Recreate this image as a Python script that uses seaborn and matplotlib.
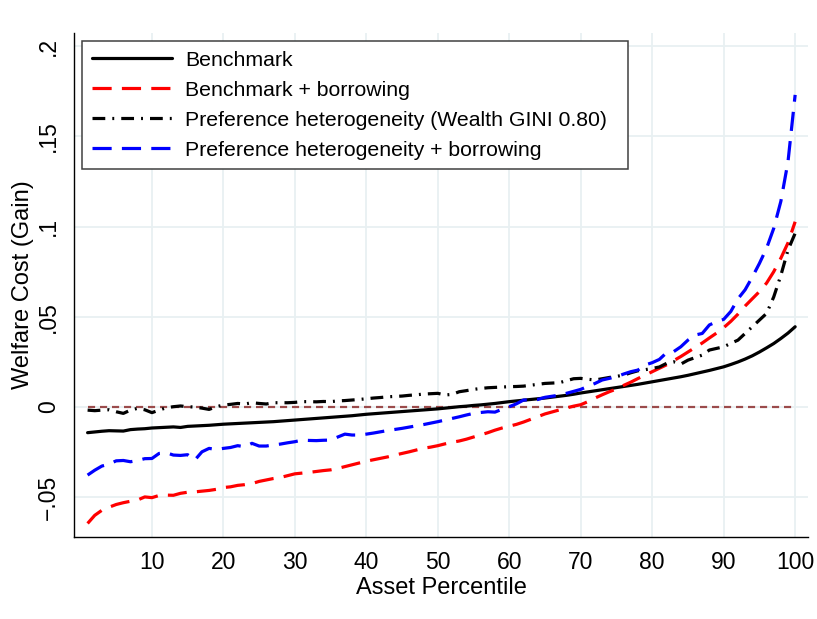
import numpy as np
import pandas as pd
import matplotlib
matplotlib.use("Agg")
import matplotlib.pyplot as plt
import seaborn as sns

# ---- data -------------------------------------------------------------
percentile = list(range(1, 101))

benchmark = [
    -0.0142, -0.0138, -0.0134, -0.0131, -0.0132, -0.0133, -0.0125, -0.0122, -0.0120, -0.0116,
    -0.0114, -0.0112, -0.0110, -0.0113, -0.0107, -0.0105, -0.0103, -0.0101, -0.0098, -0.0095,
    -0.0093, -0.0091, -0.0089, -0.0087, -0.0085, -0.0083, -0.0081, -0.0078, -0.0075, -0.0072,
    -0.0069, -0.0066, -0.0063, -0.0060, -0.0057, -0.0054, -0.0051, -0.0048, -0.0044, -0.0040,
    -0.0037, -0.0034, -0.0031, -0.0028, -0.0025, -0.0022, -0.0019, -0.0016, -0.0013, -0.0010,
    -0.0006, -0.0002, 0.0002, 0.0005, 0.0009, 0.0012, 0.0016, 0.0020, 0.0025, 0.0030,
    0.0034, 0.0038, 0.0042, 0.0046, 0.0050, 0.0055, 0.0060, 0.0065, 0.0071, 0.0078,
    0.0084, 0.0090, 0.0096, 0.0102, 0.0108, 0.0114, 0.0120, 0.0126, 0.0133, 0.0140,
    0.0147, 0.0154, 0.0161, 0.0168, 0.0176, 0.0185, 0.0194, 0.0203, 0.0213, 0.0223,
    0.0236, 0.0250, 0.0266, 0.0284, 0.0305, 0.0328, 0.0352, 0.0380, 0.0410, 0.0445,
]

benchmark_borrowing = [
    -0.0645, -0.0600, -0.0572, -0.0555, -0.0540, -0.0530, -0.0522, -0.0515, -0.0498, -0.0502,
    -0.0490, -0.0488, -0.0489, -0.0478, -0.0472, -0.0470, -0.0466, -0.0462, -0.0456, -0.0446,
    -0.0442, -0.0434, -0.0430, -0.0424, -0.0412, -0.0404, -0.0396, -0.0390, -0.0380, -0.0370,
    -0.0366, -0.0362, -0.0357, -0.0352, -0.0348, -0.0340, -0.0330, -0.0320, -0.0310, -0.0300,
    -0.0292, -0.0284, -0.0276, -0.0266, -0.0257, -0.0248, -0.0238, -0.0228, -0.0222, -0.0214,
    -0.0204, -0.0195, -0.0188, -0.0178, -0.0166, -0.0154, -0.0142, -0.0128, -0.0116, -0.0106,
    -0.0096, -0.0083, -0.0068, -0.0053, -0.0038, -0.0027, -0.0016, -0.0005, 0.0005, 0.0013,
    0.0030, 0.0050, 0.0068, 0.0085, 0.0100, 0.0120, 0.0138, 0.0158, 0.0177, 0.0196,
    0.0215, 0.0234, 0.0257, 0.0280, 0.0305, 0.0330, 0.0355, 0.0383, 0.0410, 0.0440,
    0.0475, 0.0515, 0.0560, 0.0600, 0.0640, 0.0687, 0.0750, 0.0825, 0.0910, 0.1027,
]

pref_het = [
    -0.0017, -0.0020, -0.0017, -0.0015, -0.0026, -0.0035, -0.0017, -0.0007, -0.0015, -0.0031,
    -0.0017, -0.0004, 0.0002, 0.0006, 0.0002, 0.0000, -0.0006, -0.0013, 0.0002, 0.0011,
    0.0015, 0.0020, 0.0017, 0.0024, 0.0020, 0.0017, 0.0024, 0.0024, 0.0024, 0.0026,
    0.0030, 0.0030, 0.0029, 0.0031, 0.0030, 0.0034, 0.0036, 0.0039, 0.0042, 0.0046,
    0.0050, 0.0053, 0.0057, 0.0059, 0.0061, 0.0065, 0.0068, 0.0072, 0.0074, 0.0076,
    0.0067, 0.0070, 0.0085, 0.0091, 0.0098, 0.0103, 0.0107, 0.0109, 0.0111, 0.0113,
    0.0114, 0.0116, 0.0121, 0.0126, 0.0131, 0.0133, 0.0135, 0.0146, 0.0157, 0.0159,
    0.0154, 0.0150, 0.0157, 0.0164, 0.0170, 0.0177, 0.0190, 0.0201, 0.0207, 0.0214,
    0.0222, 0.0242, 0.0251, 0.0238, 0.0260, 0.0274, 0.0288, 0.0316, 0.0325, 0.0334,
    0.0353, 0.0371, 0.0408, 0.0445, 0.0482, 0.0519, 0.0610, 0.0730, 0.0870, 0.0963,
]

pref_het_borrowing = [
    -0.0377, -0.0350, -0.0327, -0.0316, -0.0298, -0.0296, -0.0303, -0.0296, -0.0286, -0.0285,
    -0.0257, -0.0253, -0.0266, -0.0268, -0.0264, -0.0294, -0.0248, -0.0229, -0.0235, -0.0229,
    -0.0224, -0.0214, -0.0220, -0.0201, -0.0216, -0.0216, -0.0210, -0.0205, -0.0198, -0.0192,
    -0.0183, -0.0185, -0.0186, -0.0184, -0.0183, -0.0166, -0.0150, -0.0155, -0.0155, -0.0150,
    -0.0144, -0.0137, -0.0130, -0.0124, -0.0118, -0.0111, -0.0104, -0.0097, -0.0089, -0.0081,
    -0.0072, -0.0063, -0.0054, -0.0044, -0.0035, -0.0030, -0.0026, -0.0028, -0.0012, 0.0002,
    0.0018, 0.0039, 0.0040, 0.0042, 0.0054, 0.0060, 0.0066, 0.0076, 0.0087, 0.0098,
    0.0115, 0.0131, 0.0150, 0.0159, 0.0168, 0.0183, 0.0196, 0.0205, 0.0233, 0.0246,
    0.0264, 0.0301, 0.0307, 0.0334, 0.0371, 0.0399, 0.0408, 0.0455, 0.0473, 0.0486,
    0.0530, 0.0600, 0.0650, 0.0720, 0.0796, 0.0880, 0.0990, 0.1140, 0.1360, 0.1730,
]

series_labels = [
    "Benchmark",
    "Benchmark + borrowing",
    "Preference heterogeneity (Wealth GINI 0.80)",
    "Preference heterogeneity + borrowing",
]
x_ticks = [10, 20, 30, 40, 50, 60, 70, 80, 90, 100]
y_ticks = [-0.05, 0, 0.05, 0.1, 0.15, 0.2]
y_tick_labels = ["\u2212.05", "0", ".05", ".1", ".15", ".2"]

df = pd.DataFrame({
    "Asset Percentile": percentile * 4,
    "value": benchmark + benchmark_borrowing + pref_het + pref_het_borrowing,
    "series": sum([[s] * len(percentile) for s in series_labels], []),
})

# ---- style --------------------------------------------------------------
sns.set_style("white")
plt.rcParams["font.family"] = ["Liberation Sans", "DejaVu Sans"]
plt.rcParams["text.color"] = "black"
plt.rcParams["axes.labelcolor"] = "black"
plt.rcParams["xtick.color"] = "black"
plt.rcParams["ytick.color"] = "black"

palette = {
    series_labels[0]: "#000000",
    series_labels[1]: "#ff0000",
    series_labels[2]: "#000000",
    series_labels[3]: "#0000ff",
}
dashes = {
    series_labels[0]: "",
    series_labels[1]: (6.0, 3.2),
    series_labels[2]: (4.0, 2.2, 0.6, 2.2),
    series_labels[3]: (6.0, 3.2),
}

fig = plt.figure(figsize=(8.17, 6.19), dpi=100)
ax = fig.add_axes([0.0906, 0.1325, 0.8984, 0.8142])

# light grid drawn beneath the series
ax.set_axisbelow(True)
ax.grid(True, color="#e8f0f2", linewidth=1.3)

sns.lineplot(
    data=df, x="Asset Percentile", y="value",
    hue="series", style="series",
    hue_order=series_labels, style_order=series_labels,
    palette=palette, dashes=dashes,
    estimator=None, errorbar=None, linewidth=2.3,
    legend=False, ax=ax,
)
series_lines = list(ax.lines[:4])

# zero reference line
ax.plot([percentile[0], percentile[-1]], [0, 0], color="#9b4b4b",
        linewidth=1.6, linestyle=(0, (3.2, 2.2)), zorder=1.5)

ax.set_xlim(-0.9, 101.8)
ax.set_ylim(-0.072, 0.2073)
ax.set_xticks(x_ticks)
ax.set_xticklabels([str(t) for t in x_ticks])
ax.set_yticks(y_ticks)
ax.set_yticklabels(y_tick_labels, rotation=90, va="center")

for side in ["top", "right"]:
    ax.spines[side].set_visible(False)
for side in ["left", "bottom"]:
    ax.spines[side].set_color("#000000")
    ax.spines[side].set_linewidth(1.0)

ax.tick_params(axis="both", direction="out", length=6, width=1.0,
               color="#000000", labelcolor="#000000", labelsize=16.5, pad=4)

ax.set_xlabel("Asset Percentile", fontsize=17, labelpad=2)
ax.set_ylabel("Welfare Cost (Gain)", fontsize=17, labelpad=2)

# legend box spans a fixed region in figure pixels
lx0, ly0, lx1, ly1 = 82, 41, 628, 169
leg = ax.legend(
    series_lines, series_labels,
    loc="upper left",
    bbox_to_anchor=(lx0 / 817, 1 - ly1 / 619, (lx1 - lx0) / 817, (ly1 - ly0) / 619),
    bbox_transform=fig.transFigure, borderaxespad=0, mode="expand",
    fontsize=15.3, frameon=True, fancybox=False,
    handlelength=3.8, handletextpad=0.6, borderpad=0.45,
    labelspacing=0.52,
)
leg.get_frame().set_edgecolor("#404040")
leg.get_frame().set_linewidth(1.1)
leg.get_frame().set_alpha(1)

fig.savefig("out.png", dpi=100, facecolor="white")
